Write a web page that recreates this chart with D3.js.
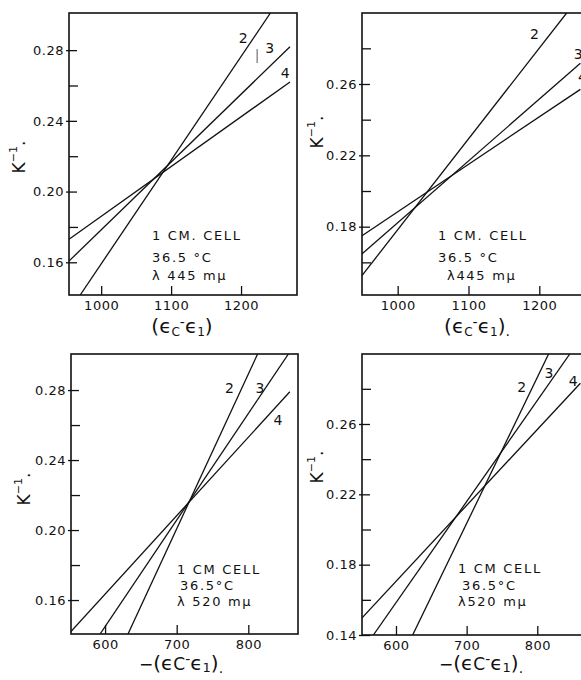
<!DOCTYPE html>
<html lang="en">
<head>
<meta charset="UTF-8">
<title>K-1 against extinction difference, four panels</title>
<script src="https://d3js.org/d3.v7.min.js"></script>
<style>
    body { margin: 0; background: #fff; }
    svg { display: block; font-family: 'DejaVu Sans', sans-serif; }
    .tick text { font-size: 13px; letter-spacing: 0.5px; fill: #111; font-family: 'DejaVu Sans', sans-serif; }
    .tick line { stroke: #111; stroke-width: 1.3; }
    .note { font-size: 13px; letter-spacing: 1.7px; fill: #111; }
    .num { font-size: 14px; fill: #111; }
</style>
</head>
<body>
<div id="chart"></div>
<script>
// ---- values ----
// axis domains of each panel
var xDomainA = [954, 1280],  yDomainA = [0.1415, 0.301];
var xDomainB = [949.6, 1271.6], yDomainB = [0.1417, 0.2998];
var xDomainC = [552.4, 869.4], yDomainC = [0.1406, 0.3006];
var xDomainD = [551.9, 874.6], yDomainD = [0.14, 0.2998];

// tick values
var xTicks445 = [1000, 1100, 1200];
var xTicks520 = [600, 700, 800];
var yMajorA = [0.16, 0.20, 0.24, 0.28], yMinorA = [0.18, 0.22, 0.26];
var yMajorB = [0.18, 0.22, 0.26],       yMinorB = [0.16, 0.20, 0.24, 0.28];
var yMajorC = [0.16, 0.20, 0.24, 0.28], yMinorC = [0.18, 0.22, 0.26];
var yMajorD = [0.14, 0.18, 0.22, 0.26], yMinorD = [0.16, 0.20, 0.24, 0.28];

// straight lines 2, 3, 4 of each panel: two end points [x, K^-1]
var linesA = [
    { id: '2', pts: [[970, 0.1415], [1242, 0.301]] },
    { id: '3', pts: [[954, 0.1607], [1270, 0.2819]] },
    { id: '4', pts: [[954, 0.173], [1270, 0.262]] }
];
var linesB = [
    { id: '2', pts: [[949, 0.1523], [1238.6, 0.2998]] },
    { id: '3', pts: [[949, 0.1645], [1258, 0.2716]] },
    { id: '4', pts: [[949, 0.1748], [1258, 0.257]] }
];
var linesC = [
    { id: '2', pts: [[632, 0.1406], [813, 0.3006]] },
    { id: '3', pts: [[593, 0.1406], [856, 0.3006]] },
    { id: '4', pts: [[552, 0.1419], [858, 0.279]] }
];
var linesD = [
    { id: '2', pts: [[623.6, 0.14], [816, 0.2998]] },
    { id: '3', pts: [[568, 0.14], [846, 0.2998]] },
    { id: '4', pts: [[552, 0.1498], [861, 0.2832]] }
];

// where the line numbers sit, in data units
var numsA = [['2', 1203, 0.2866], ['3', 1241, 0.2811], ['4', 1263, 0.267]];
var numsB = [['2', 1193, 0.288], ['3', 1255, 0.2768], ['4', 1261, 0.2638]];
var numsC = [['2', 773.7, 0.281], ['3', 816.3, 0.281], ['4', 841.5, 0.2629]];
var numsD = [['2', 778, 0.2812], ['3', 816.6, 0.2888], ['4', 850.8, 0.2846]];

var notesA = ['1 CM. CELL', '36.5 °C', 'λ 445 mμ'];
var notesB = ['1 CM. CELL', '36.5 °C', 'λ445 mμ'];
var notesC = ['1 CM CELL', '36.5°C', 'λ 520 mμ'];
var notesD = ['1 CM CELL', '36.5°C', 'λ520 mμ'];

// ---- layout ----
var svgwidth = 581, svgheight = 680;

var xLabelTop = [
    { t: '(', s: 20 }, { t: 'ϵ', s: 20 }, { t: 'C', s: 12, off: 3 },
    { t: '-', s: 14, off: -6 }, { t: 'ϵ', s: 20 }, { t: '1', s: 12, off: 3 }, { t: ')', s: 20 }
];
var xLabelBottom = [
    { t: '−', s: 17 }, { t: '(', s: 20 }, { t: 'ϵ', s: 20 }, { t: 'C', s: 17 },
    { t: '-', s: 14, off: -6 }, { t: 'ϵ', s: 20 }, { t: '1', s: 13, off: 2 }, { t: ')', s: 20 }
];

var panels = [
    { left: 69, top: 13, width: 228, height: 282, xd: xDomainA, yd: yDomainA, xt: xTicks445,
      major: yMajorA, minor: yMinorA, lines: linesA, nums: numsA, notes: notesA,
      notePos: [[83, 227], [83, 249], [83, 267]], ylab: [-44, 144], xlab: [113, 38],
      xparts: xLabelTop, trail: '' },
    { left: 362, top: 13, width: 228, height: 282, xd: xDomainB, yd: yDomainB, xt: xTicks445,
      major: yMajorB, minor: yMinorB, lines: linesB, nums: numsB, notes: notesB,
      notePos: [[76, 227], [76, 249], [85, 267]], ylab: [-39, 119], xlab: [115, 38],
      xparts: xLabelTop, trail: '.' },
    { left: 71, top: 354, width: 227, height: 280, xd: xDomainC, yd: yDomainC, xt: xTicks520,
      major: yMajorC, minor: yMinorC, lines: linesC, nums: numsC, notes: notesC,
      notePos: [[106, 220], [109, 236], [106, 252]], ylab: [-41, 135], xlab: [110, 36],
      xparts: xLabelBottom, trail: '.' },
    { left: 362, top: 354, width: 228, height: 281, xd: xDomainD, yd: yDomainD, xt: xTicks520,
      major: yMajorD, minor: yMinorD, lines: linesD, nums: numsD, notes: notesD,
      notePos: [[96, 219], [100, 236], [96, 252]], ylab: [-39, 113], xlab: [119, 35],
      xparts: xLabelBottom, trail: '.' }
];

var svg = d3.select('#chart')
            .append('svg')
            .attr('width', svgwidth)
            .attr('height', svgheight);

// writes pieces of text with their own size and vertical offset
function richText(sel, parts) {
    var cur = 0;
    parts.forEach(function(p) {
        var off = p.off || 0;
        sel.append('tspan')
           .attr('dy', off - cur)
           .style('font-size', p.s + 'px')
           .text(p.t);
        cur = off;
    });
}

panels.forEach(function(p, i) {
    var g = svg.append('g')
               .attr('transform', 'translate(' + p.left + ',' + p.top + ')');

    var x = d3.scaleLinear().domain(p.xd).range([0, p.width]);
    var y = d3.scaleLinear().domain(p.yd).range([p.height, 0]);

    // clip so the lines stop at the frame
    svg.append('clipPath').attr('id', 'clip' + i)
       .append('rect').attr('width', p.width).attr('height', p.height);

    // y ticks, inward with a short stub outside
    var yAxis = g.append('g')
        .call(d3.axisLeft(y).tickValues(p.major).tickSize(-8).tickPadding(5)
                .tickFormat(d3.format('.2f')));
    yAxis.selectAll('.tick line').attr('x1', -3);
    yAxis.select('.domain').remove();

    var yMinor = g.append('g')
        .call(d3.axisLeft(y).tickValues(p.minor).tickSize(-9).tickFormat(''));
    yMinor.select('.domain').remove();

    // x ticks at the bottom, inward
    var xAxis = g.append('g')
        .attr('transform', 'translate(0,' + p.height + ')')
        .call(d3.axisBottom(x).tickValues(p.xt).tickSize(-9).tickPadding(6)
                .tickFormat(d3.format('d')));
    xAxis.select('.domain').remove();

    // frame
    g.append('rect')
     .attr('width', p.width)
     .attr('height', p.height)
     .attr('fill', 'none')
     .attr('stroke', '#111')
     .attr('stroke-width', 1.6);

    // the lines
    var line = d3.line().x(function(d) { return x(d[0]); }).y(function(d) { return y(d[1]); });
    g.append('g').attr('clip-path', 'url(#clip' + i + ')')
     .selectAll('path')
     .data(p.lines)
     .enter().append('path')
     .attr('d', function(d) { return line(d.pts); })
     .attr('fill', 'none')
     .attr('stroke', '#111')
     .attr('stroke-width', 1.3);

    // line numbers
    g.selectAll('.num')
     .data(p.nums)
     .enter().append('text')
     .attr('class', 'num')
     .attr('x', function(d) { return x(d[1]); })
     .attr('y', function(d) { return y(d[2]); })
     .attr('dy', '0.36em')
     .attr('text-anchor', 'middle')
     .text(function(d) { return d[0]; });

    // cell / temperature / wavelength note
    g.selectAll('.note')
     .data(p.notes)
     .enter().append('text')
     .attr('class', 'note')
     .attr('x', function(d, j) { return p.notePos[j][0]; })
     .attr('y', function(d, j) { return p.notePos[j][1]; })
     .text(function(d) { return d; });

    // y label K^-1.
    var yl = g.append('text')
              .attr('transform', 'translate(' + p.ylab[0] + ',' + p.ylab[1] + ') rotate(-90)')
              .attr('text-anchor', 'middle')
              .attr('fill', '#111');
    richText(yl, [{ t: 'K', s: 17 }, { t: '−1', s: 11, off: -8 }, { t: '.', s: 17 }]);

    // x label
    var xl = g.append('text')
              .attr('x', p.xlab[0])
              .attr('y', p.height + p.xlab[1])
              .attr('text-anchor', 'middle')
              .attr('fill', '#111');
    var parts = p.xparts.slice();
    if (p.trail) parts.push({ t: p.trail, s: 14, off: 3 });
    richText(xl, parts);
});

// little stroke beside number 3 in the first panel
var xa = d3.scaleLinear().domain(xDomainA).range([69, 297]);
var ya = d3.scaleLinear().domain(yDomainA).range([295, 13]);
svg.append('line')
   .attr('x1', xa(1223)).attr('x2', xa(1223))
   .attr('y1', ya(0.2806)).attr('y2', ya(0.2727))
   .attr('stroke', '#555')
   .attr('stroke-width', 1);
</script>
</body>
</html>
